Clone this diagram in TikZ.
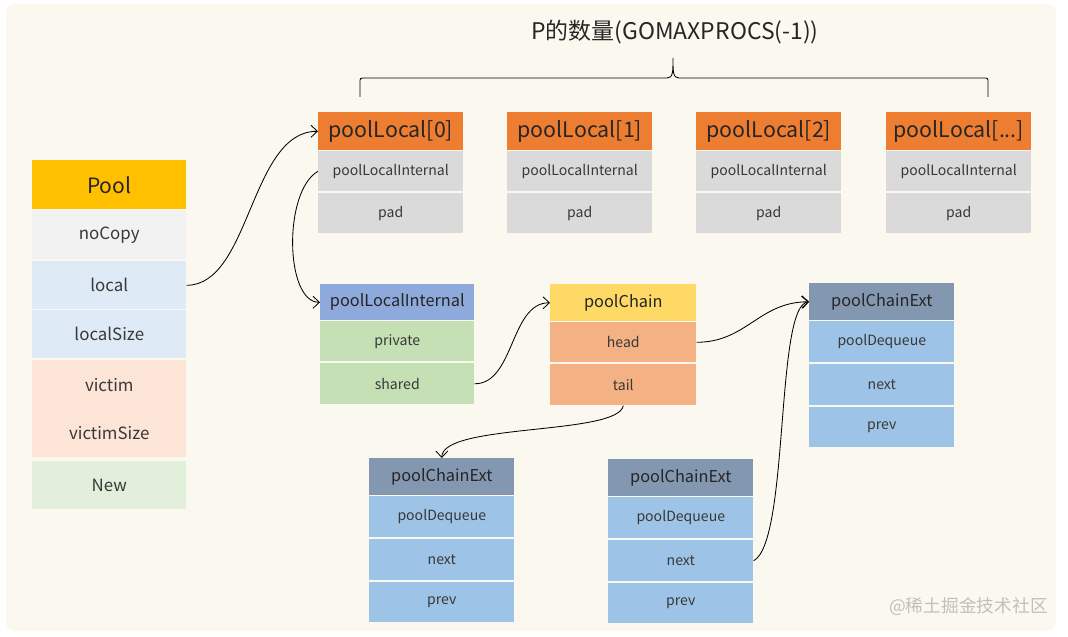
\documentclass[tikz,border=0pt]{standalone}
\usepackage{fontspec}
\setmainfont{Noto Sans CJK SC}
\usetikzlibrary{arrows.meta}
\definecolor{bgcream}{HTML}{FBF9EF}
\definecolor{poolgold}{HTML}{FFC000}
\definecolor{copygray}{HTML}{F2F2F2}
\definecolor{localblue}{HTML}{DEEBF7}
\definecolor{victimpink}{HTML}{FCE4D6}
\definecolor{newgreen}{HTML}{E2EFDA}
\definecolor{plorange}{HTML}{ED7D31}
\definecolor{plgray}{HTML}{DADADA}
\definecolor{pliblue}{HTML}{8EA9DB}
\definecolor{pligreen}{HTML}{C5E0B4}
\definecolor{chainyellow}{HTML}{FFD966}
\definecolor{chainorange}{HTML}{F4B183}
\definecolor{extslate}{HTML}{8497B0}
\definecolor{extblue}{HTML}{9DC3E6}
\definecolor{inkgray}{HTML}{383838}
\def\pldots{...}
\tikzset{
  fieldcell/.style={anchor=north west,inner sep=0pt,text=inkgray,font=\fontsize{10}{12}\selectfont},
  hdrcell/.style={fieldcell,text=black!85,font=\fontsize{11.6}{14}\selectfont},
  poolcell/.style={fieldcell,minimum width=3.85cm,minimum height=1.2cm,font=\fontsize{12}{14}\selectfont},
  link/.style={line width=0.6pt,-{Straight Barb[length=1.6mm,width=3mm]}}
}
\begin{document}
\begin{tikzpicture}[x=0.025cm,y=-0.025cm]
\fill[white] (0,0) rectangle (1068,637);
\useasboundingbox (0,0) rectangle (1068,637);
\fill[bgcream,rounded corners=6pt] (6,4) rectangle (1056,631);

\node[text=black!85,font=\fontsize{16.3}{19}\selectfont] (count) at (675,32) {P的数量(GOMAXPROCS(-1))};
\draw[line width=0.6pt] (360,97) -- (360,83) .. controls (360,78) .. (365,78) -- (667,78) .. controls (673,78) and (673,72) .. (673,58) .. controls (673,72) and (673,78) .. (679,78) -- (983,78) .. controls (988,78) .. (988,83) -- (988,97);

\node[hdrcell,fill=poolgold,minimum width=3.85cm,minimum height=1.225cm,font=\fontsize{15}{17}\selectfont] (pool) at (32,160) {Pool};
\node[poolcell,fill=copygray,minimum height=1.225cm] (nocopy) at (32,210) {noCopy};
\node[poolcell,fill=localblue] (local) at (32,261) {local};
\node[poolcell,fill=localblue] (localsize) at (32,310) {localSize};
\node[poolcell,fill=victimpink,minimum height=1.225cm] (victim) at (32,360) {victim};
\node[poolcell,fill=victimpink] (victimsize) at (32,409) {victimSize};
\node[poolcell,fill=newgreen] (new) at (32,461) {New};

\foreach \i/\x/\t in {0/318/0,1/507/1,2/696/2,3/886/\pldots}{
  \node[hdrcell,fill=plorange,minimum width=3.625cm,minimum height=0.95cm,font=\fontsize{15.2}{18}\selectfont] (pl\i-h) at (\x,112) {poolLocal[\t]};
  \node[fieldcell,fill=plgray,minimum width=3.625cm,minimum height=1cm] (pl\i-a) at (\x,151) {poolLocalInternal};
  \node[fieldcell,fill=plgray,minimum width=3.625cm,minimum height=1cm] (pl\i-b) at (\x,193) {pad};
}

\node[hdrcell,fill=pliblue,minimum width=3.85cm,minimum height=0.9cm] (pli-h) at (320,284) {poolLocalInternal};
\node[fieldcell,fill=pligreen,minimum width=3.85cm,minimum height=1cm] (pli-a) at (320,321) {private};
\node[fieldcell,fill=pligreen,minimum width=3.85cm,minimum height=1.025cm] (pli-b) at (320,363) {shared};

\node[hdrcell,fill=chainyellow,minimum width=3.65cm,minimum height=0.925cm] (chain-h) at (550,284) {poolChain};
\node[fieldcell,fill=chainorange,minimum width=3.65cm,minimum height=1cm] (chain-a) at (550,322) {head};
\node[fieldcell,fill=chainorange,minimum width=3.65cm,minimum height=1.025cm] (chain-b) at (550,364) {tail};

\foreach \n/\x/\y in {ext1/809/283,ext2/369/458,ext3/608/459}{
  \node[hdrcell,fill=extslate,minimum width=3.625cm,minimum height=0.925cm] (\n-h) at (\x,\y) {poolChainExt};
  \node[fieldcell,fill=extblue,minimum width=3.625cm,minimum height=1.025cm] (\n-a) at (\x,{\y+38}) {poolDequeue};
  \node[fieldcell,fill=extblue,minimum width=3.625cm,minimum height=1.025cm] (\n-b) at (\x,{\y+81}) {next};
  \node[fieldcell,fill=extblue,minimum width=3.625cm,minimum height=1cm] (\n-c) at (\x,{\y+124}) {prev};
}

\draw[link] (local.east) .. controls +(64,0) and +(-68,0) .. (pl0-h.west);
\draw[link] (pl0-a.west) .. controls +(-35,20) and +(-35,0) .. (pli-h.west);
\draw[link] (pli-b.east) .. controls +(40,0) and +(-40,0) .. (chain-h.west);
\draw[link] (chain-a.east) .. controls +(50,0) and +(-50,0) .. (ext1-h.west);
\draw[link] (chain-b.south) .. controls +(-5,30) and +(0,-35) .. (ext2-h.north);
\draw[link] (ext3-b.east) .. controls +(36,-19) and +(-34,3) .. (ext1-h.west);

\node[anchor=east,inner sep=0pt,text=black!25,font=\fontsize{12.6}{15}\selectfont] (mark) at (1048,607) {@稀土掘金技术社区};
\end{tikzpicture}
\end{document}
